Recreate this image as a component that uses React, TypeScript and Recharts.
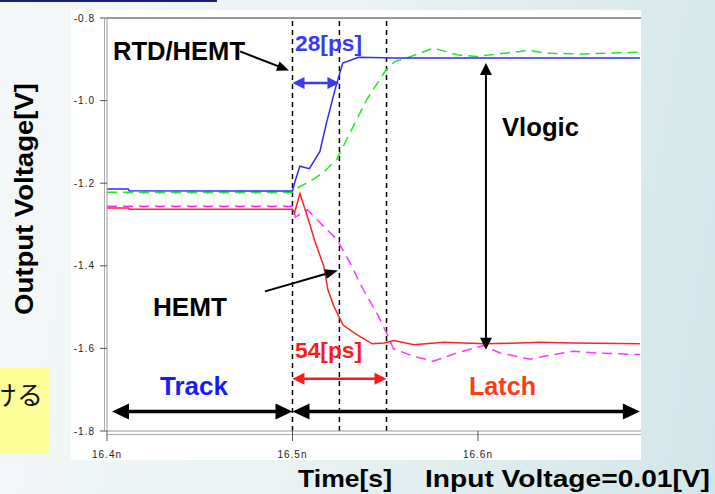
import React from 'react';
import { LineChart, Line, XAxis, YAxis, ReferenceLine } from 'recharts';

// ---- axes ----
const xTicks = [16.4, 16.5, 16.6];
const yTicks = [-1.8, -1.6, -1.4, -1.2, -1.0, -0.8];
const xDomain = [16.4, 16.6879];
const yDomain = [-1.8, -0.8];
const markerTimes = [16.5, 16.5253, 16.5507];

// ---- series (time in ns, voltage in V) ----
const rtdTime = [16.4, 16.4115, 16.412, 16.5, 16.5016, 16.504, 16.5091, 16.5148, 16.5181, 16.5229, 16.5271, 16.5355, 16.5553, 16.6873];
const rtdVolt = [-1.214, -1.214, -1.218, -1.219, -1.192, -1.159, -1.165, -1.123, -1.058, -0.974, -0.909, -0.895, -0.897, -0.897];

const rtdBTime = [16.4, 16.5, 16.504, 16.5094, 16.5164, 16.5238, 16.531, 16.54, 16.5499, 16.5553, 16.5616, 16.576, 16.5886, 16.5993, 16.6226, 16.6274, 16.6364, 16.6544, 16.6728, 16.6873];
const rtdBVolt = [-1.222, -1.222, -1.208, -1.196, -1.175, -1.143, -1.078, -0.998, -0.929, -0.905, -0.897, -0.873, -0.889, -0.893, -0.881, -0.878, -0.885, -0.887, -0.885, -0.883];

const hemtTime = [16.4, 16.4115, 16.412, 16.5, 16.5011, 16.504, 16.508, 16.5124, 16.5169, 16.5191, 16.5223, 16.5274, 16.5349, 16.543, 16.5493, 16.5547, 16.5655, 16.5816, 16.6033, 16.6226, 16.6334, 16.6513, 16.6873];
const hemtVolt = [-1.26, -1.26, -1.263, -1.263, -1.272, -1.225, -1.28, -1.345, -1.401, -1.458, -1.498, -1.544, -1.567, -1.589, -1.587, -1.581, -1.591, -1.585, -1.589, -1.587, -1.585, -1.587, -1.589];

const hemtBTime = [16.4, 16.5, 16.5016, 16.508, 16.5169, 16.5241, 16.531, 16.5382, 16.5454, 16.5508, 16.5544, 16.5652, 16.576, 16.5886, 16.603, 16.6119, 16.628, 16.637, 16.6514, 16.664, 16.6873];
const hemtBVolt = [-1.256, -1.256, -1.282, -1.264, -1.305, -1.337, -1.393, -1.458, -1.514, -1.563, -1.601, -1.619, -1.631, -1.611, -1.593, -1.611, -1.626, -1.618, -1.607, -1.611, -1.615];

// ---- annotation arrows (data coordinates) ----
const arrowRtd = [{ x: 16.4717, y: -0.8809 }, { x: 16.4981, y: -0.9269 }];
const arrowHemt = [{ x: 16.4852, y: -1.462 }, { x: 16.5245, y: -1.4111 }];
const arrow28 = [{ x: 16.5, y: -0.9574 }, { x: 16.5253, y: -0.9574 }];
const arrow54 = [{ x: 16.5, y: -1.6734 }, { x: 16.5507, y: -1.6734 }];
const arrowVlogic = [{ x: 16.6043, y: -0.909 }, { x: 16.6043, y: -1.603 }];
const arrowTrack = [{ x: 16.4027, y: -1.7525 }, { x: 16.5, y: -1.7525 }];
const arrowLatch = [{ x: 16.5, y: -1.7525 }, { x: 16.6873, y: -1.7525 }];

const zip = (t: number[], v: number[]) => t.map((x, i) => ({ t: x, v: v[i] }));

const FONT = '"Liberation Sans", Arial, Helvetica, sans-serif';

function arrowShape(color: string, sw: number, hl: number, hw: number, both: boolean) {
  return (p: any) => {
    const { x1, y1, x2, y2 } = p;
    const dx = x2 - x1;
    const dy = y2 - y1;
    const L = Math.hypot(dx, dy) || 1;
    const ux = dx / L;
    const uy = dy / L;
    const nx = -uy;
    const ny = ux;
    const head = (tx: number, ty: number, dx0: number, dy0: number) => {
      const bx = tx - dx0 * hl;
      const by = ty - dy0 * hl;
      return `${tx},${ty} ${bx + (nx * hw) / 2},${by + (ny * hw) / 2} ${bx - (nx * hw) / 2},${by - (ny * hw) / 2}`;
    };
    const sx = both ? x1 + ux * hl * 0.8 : x1;
    const sy = both ? y1 + uy * hl * 0.8 : y1;
    const ex = x2 - ux * hl * 0.8;
    const ey = y2 - uy * hl * 0.8;
    return (
      <g>
        <line x1={sx} y1={sy} x2={ex} y2={ey} stroke={color} strokeWidth={sw} />
        <polygon points={head(x2, y2, ux, uy)} fill={color} />
        {both && <polygon points={head(x1, y1, -ux, -uy)} fill={color} />}
      </g>
    );
  };
}

const XTick = (p: any) => (
  <text x={p.x} y={p.y} dy={15} textAnchor="middle" fontSize={10} fontFamily={FONT} fill="#222" letterSpacing={1}>
    {`${p.payload.value}n`}
  </text>
);

const YTick = (p: any) => (
  <text x={p.x} y={p.y} dy={3.5} textAnchor="end" fontSize={10} fontFamily={FONT} fill="#222" letterSpacing={1}>
    {Number(p.payload.value).toFixed(1)}
  </text>
);

type T = { s: string; x: number; y: number; len: number; fs: number; c: string };
const texts: T[] = [
  { s: 'RTD/HEMT', x: 113, y: 60, len: 132, fs: 25, c: '#000' },
  { s: '28[ps]', x: 295, y: 51, len: 67, fs: 22, c: '#3a3af2' },
  { s: 'Vlogic', x: 502, y: 136, len: 77, fs: 25, c: '#000' },
  { s: 'HEMT', x: 153, y: 316, len: 74, fs: 25, c: '#000' },
  { s: '54[ps]', x: 295, y: 358, len: 67, fs: 22, c: '#ff1a1a' },
  { s: 'Track', x: 160, y: 395, len: 68, fs: 25, c: '#1a1af5' },
  { s: 'Latch', x: 469, y: 395, len: 67, fs: 25, c: '#ff3b14' },
  { s: 'Time[s]', x: 298, y: 487, len: 94, fs: 24, c: '#000' },
  { s: 'Input Voltage=0.01[V]', x: 425, y: 487, len: 285, fs: 24, c: '#000' },
];

export default function App() {
  return (
    <div
      style={{
        position: 'absolute',
        left: 0,
        top: 0,
        width: 715,
        height: 494,
        overflow: 'hidden',
        background: 'linear-gradient(100deg, #f5f8f9 0%, #eaf2f3 45%, #d2e6e9 100%)',
      }}
    >
      <div style={{ position: 'absolute', left: 0, top: 0, width: 217, height: 2, background: '#14207a' }} />
      <div style={{ position: 'absolute', left: 0, top: 368, width: 50, height: 86, background: '#ffff99' }} />
      <div style={{ position: 'absolute', left: 71, top: 10, width: 570, height: 450, background: '#ffffff' }} />
      <div style={{ position: 'absolute', left: 0, top: 0 }}>
        <LineChart width={641} height={494} margin={{ top: 18, right: 0, bottom: 33, left: 0 }}>
          <XAxis
            type="number"
            dataKey="t"
            domain={xDomain}
            ticks={xTicks}
            allowDataOverflow
            height={30}
            tickSize={10}
            tickMargin={2}
            axisLine={{ stroke: '#999', strokeWidth: 1 }}
            tickLine={{ stroke: '#555' }}
            tick={<XTick />}
          />
          <YAxis
            type="number"
            dataKey="v"
            domain={yDomain}
            ticks={yTicks}
            allowDataOverflow
            width={107}
            tickSize={7}
            tickMargin={5}
            axisLine={{ stroke: '#999', strokeWidth: 1 }}
            tickLine={{ stroke: '#555' }}
            tick={<YTick />}
          />
          <ReferenceLine y={-0.8} stroke="#333" strokeWidth={1} />
          <ReferenceLine y={-1.8085} stroke="#aaa" strokeWidth={1} ifOverflow="visible" />
          <ReferenceLine x={16.39865} stroke="#aaa" strokeWidth={1} ifOverflow="visible" />
          {markerTimes.map((m) => (
            <ReferenceLine key={m} x={m} stroke="#000" strokeWidth={1.5} strokeDasharray="5 4" />
          ))}
          <Line data={zip(rtdBTime, rtdBVolt)} dataKey="v" stroke="#22e622" strokeWidth={1.5} strokeDasharray="10 6" dot={false} isAnimationActive={false} />
          <Line data={zip(hemtBTime, hemtBVolt)} dataKey="v" stroke="#ff33ff" strokeWidth={1.5} strokeDasharray="10 6" dot={false} isAnimationActive={false} />
          <Line data={zip(hemtTime, hemtVolt)} dataKey="v" stroke="#ff2222" strokeWidth={1.5} dot={false} isAnimationActive={false} />
          <Line data={zip(rtdTime, rtdVolt)} dataKey="v" stroke="#2b2bff" strokeWidth={1.5} dot={false} isAnimationActive={false} />
          <ReferenceLine segment={arrowRtd} shape={arrowShape('#000', 2, 12, 10, false)} />
          <ReferenceLine segment={arrowHemt} shape={arrowShape('#000', 2, 13, 10, false)} />
          <ReferenceLine segment={arrow28} shape={arrowShape('#3a3af2', 2.5, 12, 12, true)} />
          <ReferenceLine segment={arrow54} shape={arrowShape('#ff1a1a', 2.5, 12, 12, true)} />
          <ReferenceLine segment={arrowVlogic} shape={arrowShape('#000', 2, 12, 12, true)} />
          <ReferenceLine segment={arrowTrack} shape={arrowShape('#000', 3.5, 17, 16, true)} />
          <ReferenceLine segment={arrowLatch} shape={arrowShape('#000', 3.5, 17, 16, true)} />
        </LineChart>
      </div>
      <svg width={715} height={494} style={{ position: 'absolute', left: 0, top: 0, pointerEvents: 'none' }}>
        {texts.map((t) => (
          <text
            key={t.s}
            x={t.x}
            y={t.y}
            fontSize={t.fs}
            fontWeight="bold"
            fontFamily={FONT}
            fill={t.c}
            textLength={t.len}
            lengthAdjust="spacingAndGlyphs"
          >
            {t.s}
          </text>
        ))}
        <text
          transform="translate(33,315) rotate(-90)"
          fontSize={25}
          fontWeight="bold"
          fontFamily={FONT}
          fill="#000"
          textLength={232}
          lengthAdjust="spacingAndGlyphs"
        >
          Output Voltage[V]
        </text>
        <text x={-9} y={405} fontSize={26} fontFamily='"Noto Sans CJK JP", sans-serif' fill="#111">
          ける
        </text>
      </svg>
    </div>
  );
}
